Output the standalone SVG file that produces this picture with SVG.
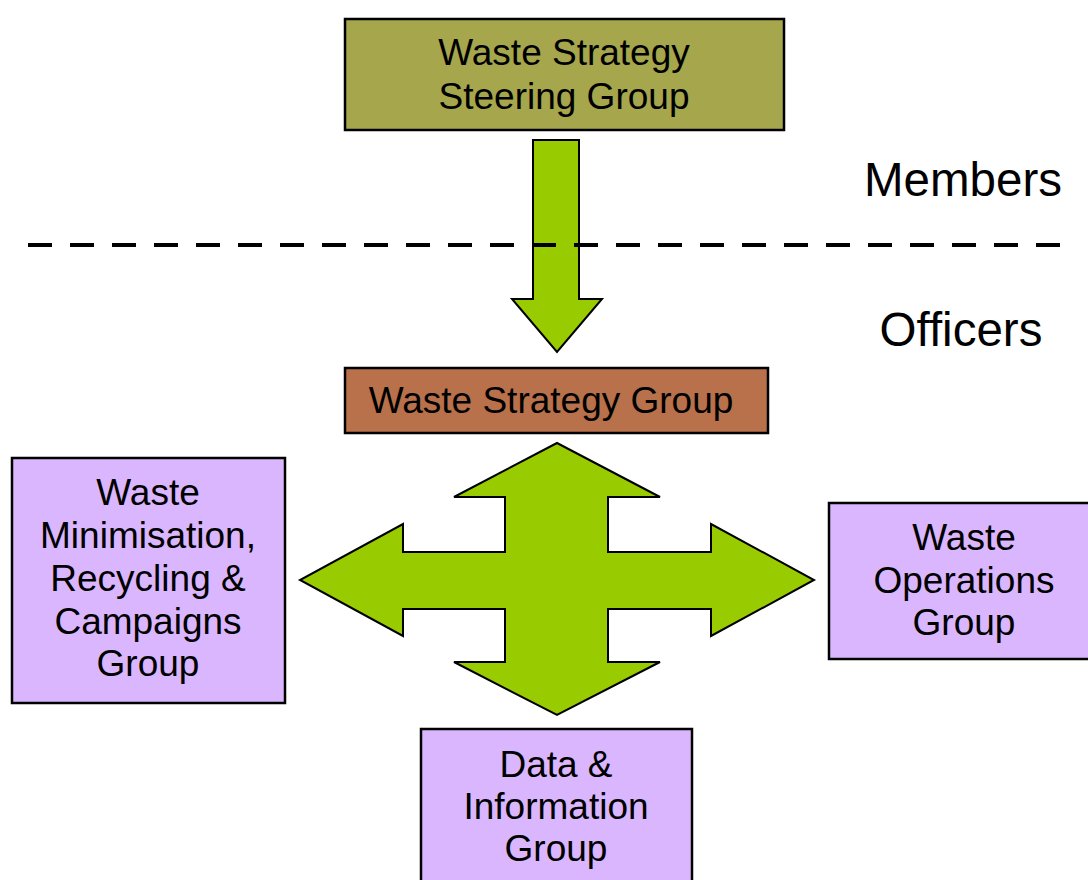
<svg xmlns="http://www.w3.org/2000/svg" width="1088" height="880" viewBox="0 0 1088 880">
<style>
.box{stroke:#000;stroke-width:2.5}
.t{font-family:"Liberation Sans",Arial,sans-serif;font-size:37px;fill:#000;text-anchor:middle}
.big{font-family:"Liberation Sans",Arial,sans-serif;font-size:47.5px;fill:#000;text-anchor:middle}
.arrow{fill:#99CC00;stroke:#000;stroke-width:2;stroke-linejoin:miter}
</style>
<rect width="1088" height="880" fill="#fff"/>
<g id="connectors">
<polygon class="arrow" points="533,140 579,140 579,299 602,299 557,352 512,299 533,299"/>
<polygon class="arrow" points="557,443 660,497 608,497 608,552 711,552 711,524 814,580 711,636 711,609 608,609 608,662 660,662 557,715 454,662 505,662 505,609 403,609 403,636 300,580 403,524 403,552 505,552 505,497 454,497"/>
</g>
<g id="divider">
<line x1="28" y1="245" x2="1062" y2="245" stroke="#000" stroke-width="4" stroke-dasharray="24 18"/>
</g>
<g id="label-members"><text class="big" x="963" y="196">Members</text></g>
<g id="label-officers"><text class="big" x="961" y="346">Officers</text></g>
<g id="steering">
<rect class="box" x="345" y="19" width="439" height="111" fill="#A6A64C"/>
<text class="t" x="564" y="65">Waste Strategy</text>
<text class="t" x="564" y="109">Steering Group</text>
</g>
<g id="wsg">
<rect class="box" x="345" y="368" width="423" height="65" fill="#B8714A"/>
<text class="t" x="551" y="413">Waste Strategy Group</text>
</g>
<g id="minimisation">
<rect class="box" x="12" y="458" width="273" height="245" fill="#DAB6FE"/>
<text class="t" x="148" y="505">Waste</text>
<text class="t" x="148" y="548">Minimisation,</text>
<text class="t" x="148" y="591">Recycling &amp;</text>
<text class="t" x="148" y="634">Campaigns</text>
<text class="t" x="148" y="676">Group</text>
</g>
<g id="operations">
<rect class="box" x="829" y="503" width="275" height="156" fill="#DAB6FE"/>
<text class="t" x="964" y="550">Waste</text>
<text class="t" x="964" y="593">Operations</text>
<text class="t" x="964" y="635">Group</text>
</g>
<g id="data">
<rect class="box" x="421" y="729" width="271" height="170" fill="#DAB6FE"/>
<text class="t" x="556" y="777">Data &amp;</text>
<text class="t" x="556" y="819">Information</text>
<text class="t" x="556" y="861">Group</text>
</g>
</svg>
